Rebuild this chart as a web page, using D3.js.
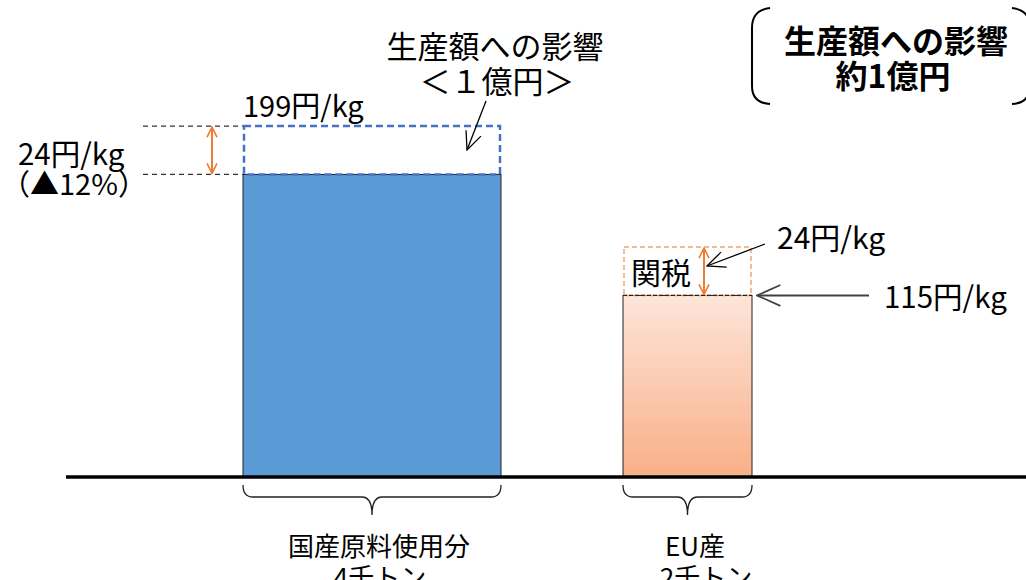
<!DOCTYPE html>
<html>
<head>
<meta charset="utf-8">
<script src="https://cdn.jsdelivr.net/npm/d3@7"></script>
<style>
  html, body { margin: 0; padding: 0; background: #fff; }
  svg { display: block; }
  text { font-family: "Noto Sans CJK JP", "Noto Sans", sans-serif; fill: #000; }
</style>
</head>
<body>
<svg id="chart" width="1026" height="580"></svg>
<script>
// ---- data ----
const categories = ["国産原料使用分", "EU産"];
const volumeLabels = ["4千トン", "2千トン"];
const volumes = [4, 2];              // 千トン (bar width)
const basePrices = [175, 115];       // 円/kg (solid bar)
const upperPrices = [199, 139];      // 円/kg (dashed box top)
const priceLabels = ["199円/kg", "115円/kg"];
const gapLabels = ["24円/kg", "24円/kg"];
const dropLabel = "（▲12%）";
const impactLines = ["生産額への影響", "＜１億円＞"];
const boxLines = ["生産額への影響", "約1億円"];
const tariffLabel = "関税";

// ---- layout ----
const svg = d3.select("#chart");
const W = 1026, H = 580;
const baseY = 477;
const y = d3.scaleLinear().domain([25, 200]).range([baseY, baseY - 2.017 * 175]);
const w = d3.scaleLinear().domain([0, 4]).range([0, 258]);
const startX = 243, gapPx = 122;
const bx = [];
let cx = startX;
volumes.forEach((v, i) => { bx.push(cx); cx += w(v) + gapPx; });

const defs = svg.append("defs");
const grad = defs.append("linearGradient").attr("id", "euGrad")
  .attr("x1", 0).attr("y1", 0).attr("x2", 0).attr("y2", 1);
grad.append("stop").attr("offset", "0%").attr("stop-color", "#FDE5D9");
grad.append("stop").attr("offset", "100%").attr("stop-color", "#F9AF87");

defs.append("marker").attr("id", "arrOrange")
  .attr("viewBox", "0 0 12 12").attr("refX", 11).attr("refY", 6)
  .attr("markerWidth", 12).attr("markerHeight", 12)
  .attr("markerUnits", "userSpaceOnUse").attr("orient", "auto-start-reverse")
  .append("path").attr("d", "M1,1 L11,6 L1,11")
  .attr("fill", "none").attr("stroke", "#ED7D31").attr("stroke-width", 1.6);
function openArrow(id, color, size) {
  defs.append("marker").attr("id", id)
    .attr("viewBox", "0 0 20 20").attr("refX", 19).attr("refY", 10)
    .attr("markerWidth", size).attr("markerHeight", size)
    .attr("markerUnits", "userSpaceOnUse").attr("orient", "auto")
    .append("path").attr("d", "M1,2 L19,10 L1,18")
    .attr("fill", "none").attr("stroke", color).attr("stroke-width", 1.3);
}
openArrow("arrBlack", "#000", 20);
openArrow("arrGray", "#404040", 26);

// ---- bars ----
const fills = ["#5B9BD5", "url(#euGrad)"];
svg.selectAll("rect.bar").data(basePrices).join("rect")
  .attr("class", "bar")
  .attr("x", (d, i) => bx[i])
  .attr("y", d => y(d))
  .attr("width", (d, i) => w(volumes[i]))
  .attr("height", d => baseY - y(d))
  .attr("fill", (d, i) => fills[i])
  .attr("stroke", "#222").attr("stroke-width", 1);

// dashed upper boxes
const boxStroke = ["#4472C4", "#F4A46C"];
const boxWidth = [2.5, 1.5];
const boxDash = ["7,4", "5,3"];
svg.selectAll("rect.up").data(upperPrices).join("rect")
  .attr("class", "up")
  .attr("x", (d, i) => bx[i] + 1)
  .attr("y", d => y(d))
  .attr("width", (d, i) => w(volumes[i]) - 2)
  .attr("height", (d, i) => y(basePrices[i]) - y(d))
  .attr("fill", "none")
  .attr("stroke", (d, i) => boxStroke[i])
  .attr("stroke-width", (d, i) => boxWidth[i])
  .attr("stroke-dasharray", (d, i) => boxDash[i]);

// black dashed top edge of EU bar
svg.append("line")
  .attr("x1", bx[1]).attr("x2", bx[1] + w(volumes[1]))
  .attr("y1", y(basePrices[1])).attr("y2", y(basePrices[1]))
  .attr("stroke", "#222").attr("stroke-width", 1.2).attr("stroke-dasharray", "4,2");

// baseline
svg.append("line").attr("x1", 66).attr("x2", W).attr("y1", baseY).attr("y2", baseY)
  .attr("stroke", "#000").attr("stroke-width", 3.5);

// left guide dashed lines
[upperPrices[0], basePrices[0]].forEach(v => {
  svg.append("line").attr("x1", 143).attr("x2", bx[0]).attr("y1", y(v)).attr("y2", y(v))
    .attr("stroke", "#333").attr("stroke-width", 1.2).attr("stroke-dasharray", "5,4");
});

// orange double arrows
const arrowX = [212, 704];
upperPrices.forEach((v, i) => {
  svg.append("line").attr("x1", arrowX[i]).attr("x2", arrowX[i])
    .attr("y1", y(v) + 1).attr("y2", y(basePrices[i]) - 1)
    .attr("stroke", "#ED7D31").attr("stroke-width", 2)
    .attr("marker-start", "url(#arrOrange)").attr("marker-end", "url(#arrOrange)");
});

// pointer arrows
svg.append("line").attr("x1", 486).attr("y1", 101).attr("x2", 467).attr("y2", 150)
  .attr("stroke", "#000").attr("stroke-width", 1.3).attr("marker-end", "url(#arrBlack)");
svg.append("line").attr("x1", 765).attr("y1", 244).attr("x2", 707).attr("y2", 266)
  .attr("stroke", "#000").attr("stroke-width", 1.3).attr("marker-end", "url(#arrBlack)");
svg.append("line").attr("x1", 869).attr("y1", y(basePrices[1])).attr("x2", bx[1] + w(volumes[1]) + 5).attr("y2", y(basePrices[1]))
  .attr("stroke", "#404040").attr("stroke-width", 2).attr("marker-end", "url(#arrGray)");

// ---- texts ----
function txt(s, x, yy, size, anchor, weight) {
  return svg.append("text").attr("x", x).attr("y", yy)
    .attr("font-size", size).attr("text-anchor", anchor || "start")
    .attr("font-weight", weight || "normal").text(s);
}
// multi-line text in a single element
function lines(arr, specs, size, anchor, weight) {
  const t = svg.append("text").attr("font-size", size)
    .attr("text-anchor", anchor || "start").attr("font-weight", weight || "normal");
  arr.forEach((s, i) => {
    t.append("tspan").attr("x", specs[i][0]).attr("y", specs[i][1])
      .attr("font-size", specs[i][2] || size).text(s);
  });
  return t;
}
lines(impactLines, [[495, 58], [497, 93]], 31, "middle");
txt(priceLabels[0], 243, 117, 29);
lines([gapLabels[0], dropLabel], [[18, 165, 29.5], [1, 195, 29]], 29);
txt(gapLabels[1], 777, 249, 30);
txt(tariffLabel, 631, 284, 30);
txt(priceLabels[1], 884, 308, 29.5);

// top-right bracket box
svg.append("path").attr("d", "M770,8 Q752,10 752,28 L752,86 Q752,103 770,104")
  .attr("fill", "none").attr("stroke", "#000").attr("stroke-width", 2);
svg.append("path").attr("d", "M1012,8 Q1030,10 1030,28 L1030,86 Q1030,103 1012,104")
  .attr("fill", "none").attr("stroke", "#000").attr("stroke-width", 2);
lines(boxLines, [[896, 53], [893, 88]], 32, "middle", "bold");

// braces and category labels
function brace(x1, x2, top) {
  const m = (x1 + x2) / 2, r = 10, mid = top + 12, tip = top + 30;
  return `M${x1},${top} Q${x1},${mid} ${x1 + r},${mid} L${m - r},${mid} Q${m},${mid} ${m},${tip} ` +
         `Q${m},${mid} ${m + r},${mid} L${x2 - r},${mid} Q${x2},${mid} ${x2},${top}`;
}
categories.forEach((c, i) => {
  const x1 = bx[i], x2 = bx[i] + w(volumes[i]);
  svg.append("path").attr("d", brace(x1, x2, 485))
    .attr("fill", "none").attr("stroke", "#222").attr("stroke-width", 1.3);
});
lines([categories[0], volumeLabels[0]], [[379, 556], [380, 587]], 26, "middle");
lines([categories[1], volumeLabels[1]], [[695, 556], [706, 587]], 26, "middle");
</script>
</body>
</html>
